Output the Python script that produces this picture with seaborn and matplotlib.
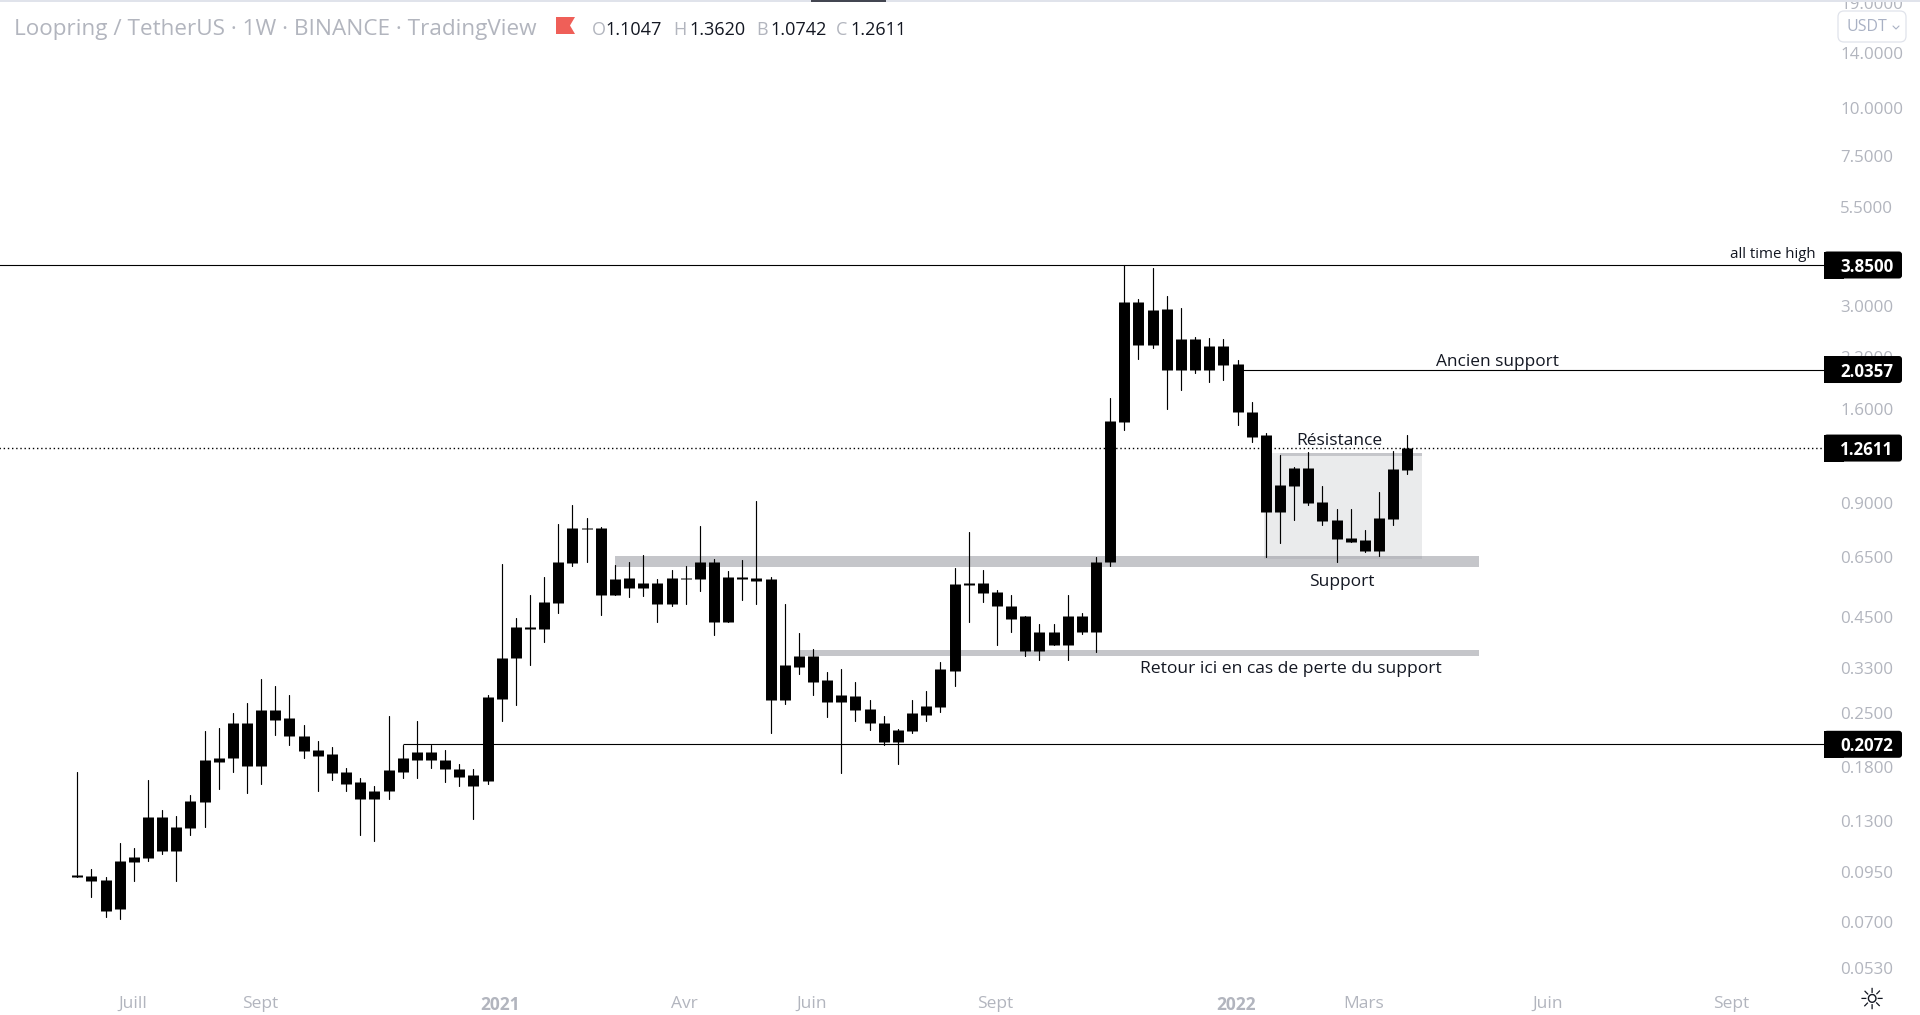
"""Loopring / TetherUS weekly candles with support and resistance drawings."""

import matplotlib

matplotlib.use("Agg")

import matplotlib.pyplot as plt
import numpy as np
import pandas as pd
import seaborn as sns
from matplotlib.lines import Line2D
from matplotlib.patches import FancyBboxPatch, Rectangle
from matplotlib.ticker import NullLocator
from matplotlib.transforms import IdentityTransform

opens = [0.0925, 0.0931, 0.0908, 0.0757, 0.1008, 0.1033, 0.1334, 0.1084, 0.1247, 0.1453,
         0.1911, 0.1900, 0.2366, 0.1820, 0.2546, 0.2425, 0.2186, 0.1995, 0.1947, 0.1755,
         0.1651, 0.1480, 0.1554, 0.1755, 0.1888, 0.1971, 0.1888, 0.1777, 0.1713, 0.1661,
         0.2739, 0.3496, 0.4223, 0.4172, 0.4918, 0.6239, 0.7723, 0.7723, 0.5164, 0.5728,
         0.5389, 0.5556, 0.4888, 0.5728, 0.5693, 0.6315, 0.4354, 0.5763, 0.5728, 0.5659,
         0.2722, 0.3329, 0.3560, 0.3057, 0.2689, 0.2773, 0.2577, 0.2366, 0.2107, 0.2240,
         0.2484, 0.2593, 0.3249, 0.5456, 0.5556, 0.5228, 0.4829, 0.4516, 0.3670, 0.4121,
         0.3807, 0.4516, 0.4121, 0.6277, 1.474, 3.064, 2.357, 2.936, 2.024, 2.445,
         2.024, 2.343, 2.099, 1.567, 1.362, 0.8514, 0.9977, 1.120, 0.9050, 0.8109,
         0.7266, 0.7178, 0.6753, 0.8159, 1.1047]
highs = [0.1755, 0.0966, 0.0920, 0.1138, 0.1104, 0.1671, 0.1384, 0.1342, 0.1525, 0.2240,
         0.2295, 0.2500, 0.2657, 0.3094, 0.2965, 0.2790, 0.2337, 0.2120, 0.2032, 0.1798,
         0.1682, 0.1611, 0.2469, 0.2065, 0.2381, 0.2069, 0.1995, 0.1832, 0.1777, 0.2790,
         0.6201, 0.4488, 0.5164, 0.5763, 0.7914, 0.8886, 0.8208, 0.7770, 0.6163, 0.6277,
         0.6551, 0.5693, 0.5978, 0.6126, 0.7818, 0.6393, 0.5942, 0.6354, 0.9105, 0.5763,
         0.4888, 0.4096, 0.3693, 0.3210, 0.3269, 0.3020, 0.2722, 0.2469, 0.2281, 0.2706,
         0.2876, 0.3432, 0.6088, 0.7537, 0.5978, 0.5324, 0.5133, 0.4516, 0.4301, 0.4301,
         0.5164, 0.4627, 0.6471, 1.7062, 3.8500, 3.1204, 3.7696, 3.1780, 2.9537, 2.4750,
         2.4600, 2.4450, 2.1511, 1.6651, 1.3783, 1.2053, 1.1203, 1.2276, 0.9977, 0.8672,
         0.8672, 0.7629, 0.9619, 1.2351, 1.3620]
lows = [0.0925, 0.0819, 0.0721, 0.0712, 0.0903, 0.1020, 0.1064, 0.0903, 0.1195, 0.1255,
        0.1582, 0.1755, 0.1535, 0.1631, 0.2199, 0.2069, 0.1900, 0.1554, 0.1671, 0.1563,
        0.1195, 0.1152, 0.1480, 0.1692, 0.1682, 0.1798, 0.1651, 0.1611, 0.1310, 0.1628,
        0.2395, 0.2625, 0.3370, 0.3854, 0.4627, 0.6126, 0.6315, 0.4571, 0.5133, 0.5071,
        0.5102, 0.4354, 0.4829, 0.4888, 0.5260, 0.4022, 0.4354, 0.4979, 0.4859, 0.2226,
        0.2641, 0.3171, 0.2790, 0.2454, 0.1744, 0.2395, 0.2254, 0.2065, 0.1832, 0.2213,
        0.2381, 0.2530, 0.2965, 0.4380, 0.4948, 0.3807, 0.4121, 0.3539, 0.3474, 0.3807,
        0.3474, 0.4047, 0.3626, 0.6126, 1.4038, 2.1643, 2.3144, 1.5956, 1.7915, 1.9872,
        1.8811, 1.9042, 1.4472, 1.3047, 0.6471, 0.7048, 0.8109, 0.8886, 0.7866, 0.6277,
        0.7091, 0.6712, 0.6511, 0.7866, 1.0742]
closes = [0.09365, 0.09029, 0.0752, 0.1014, 0.1039, 0.1334, 0.1084, 0.1255, 0.1462, 0.1888,
          0.1865, 0.2366, 0.182, 0.2546, 0.241, 0.2173, 0.1983, 0.1935, 0.1744, 0.1631,
          0.148, 0.1563, 0.1766, 0.19, 0.1971, 0.1877, 0.1777, 0.1702, 0.1602, 0.2756,
          0.3517, 0.4223, 0.4172, 0.4948, 0.6277, 0.7723, 0.7676, 0.5164, 0.5693, 0.5389,
          0.5556, 0.4888, 0.5728, 0.5693, 0.6315, 0.4354, 0.5763, 0.5693, 0.5624, 0.2706,
          0.335, 0.356, 0.3038, 0.2689, 0.279, 0.2561, 0.2352, 0.2107, 0.2254, 0.25,
          0.2609, 0.3269, 0.5489, 0.5556, 0.5196, 0.48, 0.4461, 0.367, 0.4121, 0.3807,
          0.4516, 0.4121, 0.6315, 1.483, 3.064, 2.357, 2.918, 2.024, 2.445, 2.024,
          2.343, 2.087, 1.567, 1.353, 0.8514, 1.004, 1.12, 0.8995, 0.806, 0.7222,
          0.7134, 0.6753, 0.8208, 1.107, 1.2611]

price_ticks = [19, 14, 10, 7.5, 5.5, 3, 2.2, 1.6, 0.9, 0.65, 0.45, 0.33, 0.25, 0.18, 0.13, 0.095, 0.07, 0.053]
price_labels = ["19.0000", "14.0000", "10.0000", "7.5000", "5.5000", "3.0000", "2.2000", "1.6000", "0.9000",
                "0.6500", "0.4500", "0.3300", "0.2500", "0.1800", "0.1300", "0.0950", "0.0700", "0.0530"]
time_ticks = [3.9, 12.9, 29.9, 42.9, 51.9, 64.9, 81.9, 90.9, 103.9, 116.9]
time_labels = ["Juill", "Sept", "2021", "Avr", "Juin", "Sept", "2022", "Mars", "Juin", "Sept"]

level_prices = [3.85, 2.0357, 1.2611, 0.2072]
level_labels = ["3.8500", "2.0357", "1.2611", "0.2072"]

FONT = "Open Sans"
GREY_TEXT = "#b2b5be"
ZONE = "#c5c6ca"
INK = "#131722"

sns.set_theme(style="white")
plt.rcParams["font.family"] = [FONT, "DejaVu Sans"]

bars = np.arange(len(closes))
wicks = pd.DataFrame({"bar": np.tile(bars, 2), "price": lows + highs})
bodies = pd.DataFrame({"bar": np.tile(bars, 2), "price": opens + closes})

fig = plt.figure(figsize=(19.2, 10.15), dpi=100, facecolor="white")
ax = fig.add_axes([0, 29.4 / 1015, 1824 / 1920, 985 / 1015])
ax.set_yscale("log")

# drawings sit under the candles
ax.add_patch(Rectangle((38.0, 0.609), 61.07, 0.655 - 0.609, color=ZONE, lw=0, zorder=1))
ax.add_patch(Rectangle((51.0, 0.356), 48.07, 0.369 - 0.356, color=ZONE, lw=0, zorder=1))
ax.add_patch(Rectangle((83.9, 0.643), 11.15, 1.227 - 0.643, color="#787b86", alpha=0.15, lw=0, zorder=1.1))
ax.add_patch(Rectangle((85.0, 1.205), 10.05, 1.227 - 1.205, color=ZONE, lw=0, zorder=1.2))

right = 123.45
ax.hlines(3.85, -6, right, color="black", lw=0.8, zorder=2)
ax.hlines(2.0357, 82, right, color="black", lw=0.8, zorder=2)
ax.hlines(0.2072, 23, right, color="black", lw=0.8, zorder=2)
ax.hlines(1.2611, -6, right, color="black", lw=1.0, linestyles=(0, (1, 2)), zorder=2)

sns.lineplot(data=wicks, x="bar", y="price", units="bar", estimator=None, sort=False,
             color="black", lw=0.85, legend=False, ax=ax, zorder=3)
sns.lineplot(data=bodies, x="bar", y="price", units="bar", estimator=None, sort=False,
             color="black", lw=7.9, solid_capstyle="butt", legend=False, ax=ax, zorder=4)

ax.set_xlim(-5.46, right)
ax.set_ylim(0.04758, 19.30)
ax.set_xlabel("")
ax.set_ylabel("")
for side in ax.spines.values():
    side.set_visible(False)

ax.yaxis.tick_right()
ax.set_yticks(price_ticks, price_labels)
ax.yaxis.set_minor_locator(NullLocator())
ax.tick_params(axis="y", length=0, pad=11.5, labelsize=12.2, labelcolor=GREY_TEXT)
ax.set_xticks(time_ticks, time_labels)
ax.tick_params(axis="x", length=0, pad=7.5, labelsize=12.5, labelcolor=GREY_TEXT)
for label in ax.get_xticklabels():
    if label.get_text() in ("2021", "2022"):
        label.set_fontweight("bold")

# annotations
ax.text(85.8, 0.327, "Retour ici en cas de perte du support", ha="center", va="center", fontsize=12.6, color=INK, zorder=5)
ax.text(89.4, 0.559, "Support", ha="center", va="center", fontsize=12.5, color=INK, zorder=5)
ax.text(89.2, 1.313, "Résistance", ha="center", va="center", fontsize=12.5, color=INK, zorder=5)
ax.text(100.4, 2.135, "Ancien support", ha="center", va="center", fontsize=12.4, color=INK, zorder=5)
ax.text(119.8, 4.11, "all time high", ha="center", va="center", fontsize=10.8, color=INK, zorder=5)

# price labels on the scale, square on the left and rounded on the right
for price, text in zip(level_prices, level_labels):
    y_px = ax.transData.transform((0, price))[1]
    ax.add_patch(FancyBboxPatch((1824, y_px - 13.5), 78, 27, boxstyle="round,pad=0,rounding_size=3",
                                transform=IdentityTransform(), fc="black", ec="none", zorder=5.5, clip_on=False))
    ax.add_patch(Rectangle((1824, y_px - 13.5), 20, 27, transform=IdentityTransform(), fc="black", ec="none",
                           zorder=5.5, clip_on=False))
    ax.annotate(text, xy=(1, price), xycoords=ax.get_yaxis_transform(), xytext=(43, -2),
                textcoords="offset pixels", ha="center", va="center", color="white",
                fontsize=12.2, fontweight="bold", zorder=6, annotation_clip=False)

# header
fig.add_artist(Rectangle((0, 1013), 1920, 2, transform=IdentityTransform(), color="#e0e3eb", lw=0))
fig.add_artist(Rectangle((811, 1013), 75, 2, transform=IdentityTransform(), color="#434651", lw=0, zorder=2))


def header_text(x_px, text, color):
    fig.text(x_px / 1920, 1 - 30 / 1015, text, color=color, fontsize=13, va="center", ha="left")


fig.text(14 / 1920, 1 - 30 / 1015, "Loopring / TetherUS · 1W · BINANCE · TradingView",
         color=GREY_TEXT, fontsize=16.2, va="center", ha="left")
flag_x = [556, 575, 570, 575, 556]
flag_y = [17, 17, 25.5, 34, 34]
fig.add_artist(plt.Polygon(np.column_stack([flag_x, 1015 - np.array(flag_y)]), transform=IdentityTransform(),
                           color="#ef5f58", lw=0))
for x_letter, letter, x_value, value in [(592, "O", 605, "1.1047"), (673, "H", 689, "1.3620"),
                                         (756, "B", 770, "1.0742"), (836, "C", 850, "1.2611")]:
    header_text(x_letter, letter, GREY_TEXT)
    header_text(x_value, value, INK)

# currency button and settings icon
fig.add_artist(FancyBboxPatch((1841, 976), 62, 25, boxstyle="round,pad=3,rounding_size=6",
                              transform=IdentityTransform(), fc="white", ec="#e0e3eb", lw=0.9, zorder=5))
fig.text(1846 / 1920, 1 - 27 / 1015, "USDT", color="#a9b1c4", fontsize=11.5, va="center", ha="left", zorder=6)
fig.add_artist(Line2D([1893, 1896, 1899], [989, 986, 989], transform=IdentityTransform(),
                      color="#a9b1c4", lw=0.8, zorder=6))
fig.text(1872 / 1920, 1 - 1001 / 1015, "☼", family="DejaVu Sans", color=INK, fontsize=21, ha="center", va="center")

fig.savefig("out.png", dpi=100)
